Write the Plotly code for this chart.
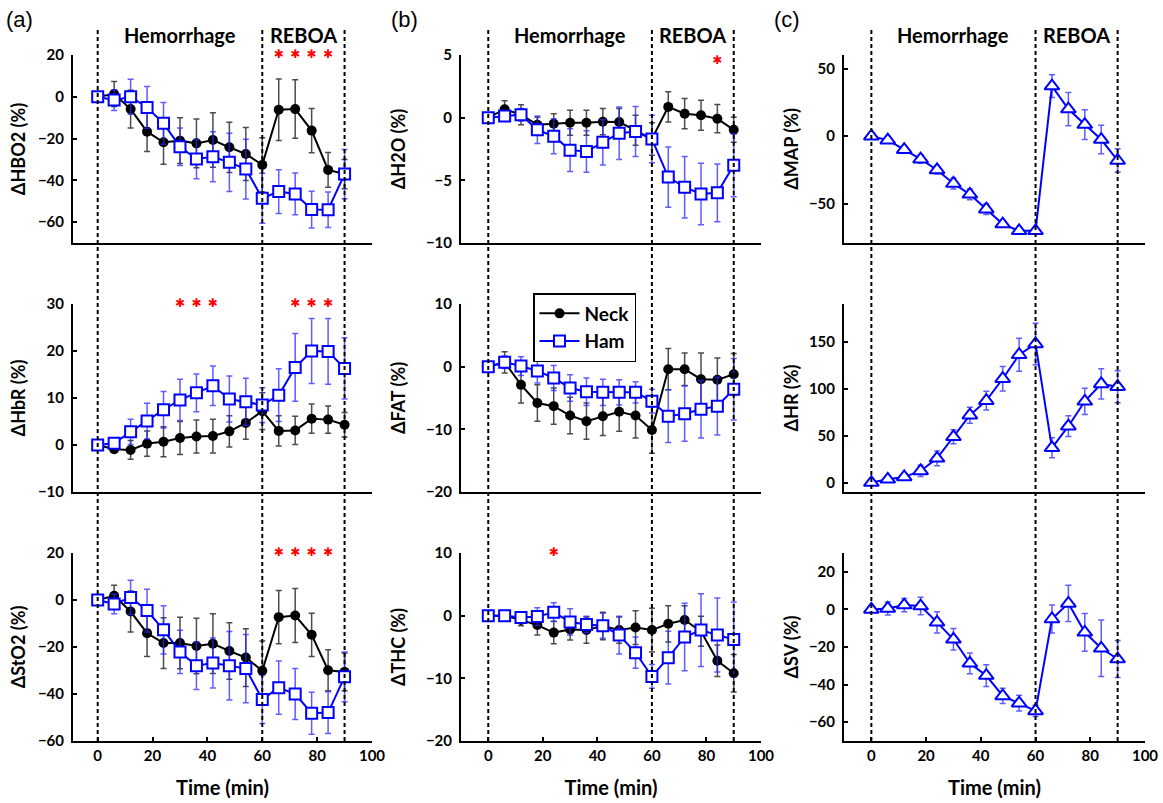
import plotly.graph_objects as go

# ---------------- data ----------------
t = [0, 6, 12, 18, 24, 30, 36, 42, 48, 54, 60, 66, 72, 78, 84, 90]

hbo2_neck = [0, 1.3, -5.9, -16.7, -21.8, -21.0, -22.3, -20.7, -24.2, -27.4, -32.6, -6.2, -5.9, -16.2, -35.0, -37.0]
hbo2_neck_err = [0, 6, 9, 9.5, 10.5, 11, 11.7, 13, 12, 12.7, 13, 14.7, 14, 10.6, 8.3, 7]
hbo2_ham = [0, -1.6, 0, -5.1, -12.7, -23.9, -29.8, -28.7, -31.4, -34.6, -48.6, -45.4, -46.5, -54.0, -54.1, -37.0]
hbo2_ham_err = [0, 5, 8.4, 10, 10, 9, 9.4, 12, 13.9, 14.3, 12, 10.5, 10, 8.8, 8.5, 11.8]

hbr_neck = [0, -0.9, -1.05, 0.3, 0.7, 1.5, 1.8, 1.9, 2.9, 4.7, 7.2, 3.0, 3.1, 5.6, 5.4, 4.3]
hbr_neck_err = [0, 0.6, 2, 2.7, 3.2, 3.5, 3.5, 3.6, 3.3, 3.5, 3.9, 3.2, 3.0, 3.1, 2.9, 2.6]
hbr_ham = [0, 0.35, 2.8, 5.1, 7.5, 9.6, 11.1, 12.6, 9.8, 9.2, 8.5, 10.6, 16.5, 20.0, 19.9, 16.3]
hbr_ham_err = [0, 0.5, 2.7, 3.8, 3.9, 4.4, 4.0, 4.2, 4.9, 5.0, 3.7, 5.6, 7.2, 6.9, 7.0, 6.5]

sto2_neck = [0, 1.8, -4.9, -14.1, -18.3, -18.3, -19.6, -18.6, -21.7, -24.5, -30.1, -7.3, -6.6, -14.8, -29.9, -30.6]
sto2_neck_err = [0, 4.5, 8.7, 9.9, 10.8, 11, 11.8, 12.7, 12, 12.3, 12.7, 11.3, 11.5, 9.2, 8.7, 8]
sto2_ham = [0, -1.7, 1.1, -4.5, -12.7, -22.1, -28.0, -26.8, -28.0, -29.2, -42.3, -37.3, -40.0, -48.2, -47.9, -32.7]
sto2_ham_err = [0, 4.2, 7.3, 9.1, 10.3, 9.2, 10.1, 10.6, 14.6, 14.5, 10.3, 11.3, 10.8, 8.9, 8.9, 10.6]

h2o_neck = [0, 0.67, 0.24, -0.57, -0.49, -0.4, -0.4, -0.32, -0.35, -1.0, -1.7, 0.86, 0.32, 0.19, -0.08, -0.97]
h2o_neck_err = [0, 0.67, 0.8, 0.6, 0.8, 1.0, 1.0, 1.05, 1.08, 1.2, 1.3, 1.2, 1.2, 1.2, 1.13, 1.0]
h2o_ham = [0, 0.13, 0.24, -0.97, -1.48, -2.59, -2.7, -1.97, -1.24, -1.1, -1.7, -4.74, -5.55, -6.09, -6.0, -3.8]
h2o_ham_err = [0, 0.3, 0.5, 1.1, 1.4, 1.7, 1.65, 1.8, 2.1, 2.0, 1.9, 2.4, 2.45, 2.45, 2.3, 2.5]

fat_neck = [0, 0.7, -2.9, -5.8, -6.3, -7.8, -8.7, -7.9, -7.2, -7.8, -10.1, -0.4, -0.4, -2.0, -2.1, -1.2]
fat_neck_err = [0, 1.7, 2.9, 2.9, 2.9, 2.9, 2.9, 3.1, 3.1, 3.6, 3.7, 3.3, 2.6, 4.2, 3.5, 3.3]
fat_ham = [0, 0.7, 0.1, -0.7, -1.8, -3.4, -4.0, -4.1, -4.1, -4.1, -5.5, -7.9, -7.5, -6.8, -6.3, -3.6]
fat_ham_err = [0, 1.0, 1.5, 1.9, 2.0, 2.1, 2.2, 2.1, 2.0, 1.7, 1.9, 4.2, 4.4, 4.6, 4.6, 4.9]

thc_neck = [0, 0, -0.7, -1.5, -2.7, -2.2, -2.3, -1.65, -2.3, -1.9, -2.3, -1.3, -0.7, -2.5, -7.2, -9.2]
thc_neck_err = [0, 0.5, 0.9, 1.6, 1.8, 1.7, 2.1, 2.2, 2.1, 2.7, 3.5, 2.9, 2.3, 2.4, 2.5, 3.0]
thc_ham = [0, 0, -0.3, -0.15, 0.55, -1.0, -1.4, -1.6, -3.1, -5.9, -9.7, -6.7, -3.4, -2.3, -3.1, -3.8]
thc_ham_err = [0, 0.6, 0.9, 1.4, 1.5, 2.1, 1.3, 2.0, 3.0, 2.5, 1.9, 4.2, 5.4, 5.8, 5.9, 6.0]

map_vals = [0, -3, -10, -17, -25, -35, -43, -54, -65, -70, -70, 37, 20, 8.6, -2.5, -18]
map_err = [0, 1, 2, 3, 3, 4, 4, 4, 2, 2, 1, 8.4, 12.3, 11, 10.6, 8.6]
hr_vals = [0, 3.5, 6, 12.4, 25.8, 48.7, 71.7, 87.2, 110.5, 136, 147.5, 37, 60, 86.5, 105, 102]
hr_err = [0, 2, 3, 6, 7.8, 7.5, 8.5, 10, 13, 17.5, 22, 10.6, 11, 14, 16, 17]
sv_vals = [0, 0.5, 2.3, 1.8, -6.9, -15.9, -28.7, -35.2, -46, -49.9, -54, -5.1, 3.2, -12.2, -20.7, -26.4]
sv_err = [0, 3.5, 3.5, 4.6, 5.7, 5.7, 5.5, 5.8, 4, 4.2, 3, 7.5, 9.7, 10, 15, 9.8]

# significance (time, level)
sig_hbo2_t = [66, 72, 78, 84]; sig_hbo2_y = 20
sig_hbr_t = [30, 36, 42, 72, 78, 84]; sig_hbr_y = 30
sig_sto2_t = [66, 72, 78, 84]; sig_sto2_y = 20
sig_h2o_t = [84]; sig_h2o_y = 4.5
sig_thc_t = [24]; sig_thc_y = 10

phase_bounds = [0, 60, 90]
phase_labels = ["Hemorrhage", "REBOA"]
phase_centers = [30, 75]

x_ticks = [0, 20, 40, 60, 80, 100]

# ---------------- layout geometry ----------------
W, H = 1163, 803
FONT = "Lato"
BLUE = "#0000FF"

col_px = [(73, 372, [-9, 100]), (461, 761, [-10, 100]), (844, 1145, [-10, 100])]
row_px = [(55, 243), (304, 492), (553, 741)]

panels = [
    # (row, col, ytitle, yrange, yticks)
    (0, 0, "ΔHBO2 (%)", [-70, 20], [-60, -40, -20, 0, 20]),
    (1, 0, "ΔHbR (%)", [-10, 30], [-10, 0, 10, 20, 30]),
    (2, 0, "ΔStO2 (%)", [-60, 20], [-60, -40, -20, 0, 20]),
    (0, 1, "ΔH2O (%)", [-10, 5], [-10, -5, 0, 5]),
    (1, 1, "ΔFAT (%)", [-20, 10], [-20, -10, 0, 10]),
    (2, 1, "ΔTHC (%)", [-20, 10], [-20, -10, 0, 10]),
    (0, 2, "ΔMAP (%)", [-79, 60], [-50, 0, 50]),
    (1, 2, "ΔHR (%)", [-10, 190], [0, 50, 100, 150]),
    (2, 2, "ΔSV (%)", [-70, 30], [-60, -40, -20, 0, 20]),
]

fig = go.Figure()
layout = dict(width=W, height=H, margin=dict(l=0, r=0, t=0, b=0, autoexpand=False),
              paper_bgcolor="white", plot_bgcolor="white", showlegend=True)

def axname(row, col):
    return row * 3 + col + 1

tickfont = dict(family=FONT, size=15, color="black", weight="bold")
titlefont = dict(family=FONT, size=18, color="black", weight="bold")

standoffs = {0: 8, 1: 16, 2: 6}

for (r, c, ytitle, yr, yt) in panels:
    n = axname(r, c)
    x0, x1, xr = col_px[c]
    y0, y1 = row_px[r]
    xk = "xaxis" if n == 1 else f"xaxis{n}"
    yk = "yaxis" if n == 1 else f"yaxis{n}"
    layout[xk] = dict(domain=[x0 / W, x1 / W], range=xr, anchor=f"y{'' if n == 1 else n}",
                      showline=True, linecolor="black", linewidth=2, showgrid=False,
                      zeroline=False, tickvals=x_ticks, automargin=False,
                      showticklabels=(r == 2), ticks="inside" if r == 2 else "",
                      ticklen=4, tickwidth=1.5, tickcolor="black", tickfont=tickfont)
    if r == 2:
        layout[xk]["title"] = dict(text="Time (min)", font=dict(family=FONT, size=20, color="black", weight="bold"), standoff=18)
    layout[yk] = dict(domain=[1 - y1 / H, 1 - y0 / H], range=yr, anchor=f"x{'' if n == 1 else n}",
                      showline=True, linecolor="black", linewidth=2, showgrid=False,
                      zeroline=False, tickvals=yt, ticks="inside", ticklen=4, tickwidth=1.5,
                      tickcolor="black", tickfont=tickfont, automargin=False, ticklabelstandoff=4,
                      title=dict(text=ytitle, font=titlefont, standoff=standoffs[c]))

fig.update_layout(**layout)

def add_pair(n, neck, neck_err, ham, ham_err, show):
    xa = "x" if n == 1 else f"x{n}"
    ya = "y" if n == 1 else f"y{n}"
    fig.add_trace(go.Scatter(
        x=t, y=neck, xaxis=xa, yaxis=ya, mode="lines+markers", name="Neck",
        legendgroup="neck", showlegend=show,
        line=dict(color="black", width=2),
        marker=dict(symbol="circle", size=10, color="black"),
        error_y=dict(type="data", array=neck_err, color="rgba(0,0,0,0.7)", thickness=1.5, width=3)))
    fig.add_trace(go.Scatter(
        x=t, y=ham, xaxis=xa, yaxis=ya, mode="lines+markers", name="Ham",
        legendgroup="ham", showlegend=show,
        line=dict(color=BLUE, width=2),
        marker=dict(symbol="square", size=11, color="white", line=dict(color=BLUE, width=2)),
        error_y=dict(type="data", array=ham_err, color="rgba(40,40,255,0.75)", thickness=1.5, width=3)))

def add_single(n, vals, err):
    xa = f"x{n}"
    ya = f"y{n}"
    fig.add_trace(go.Scatter(
        x=t, y=vals, xaxis=xa, yaxis=ya, mode="lines+markers", showlegend=False,
        line=dict(color=BLUE, width=2),
        marker=dict(symbol="triangle-up", size=13, color="white", line=dict(color=BLUE, width=2)),
        error_y=dict(type="data", array=err, color="rgba(40,40,255,0.75)", thickness=1.5, width=3)))

def add_sig(n, times, level):
    xa = "x" if n == 1 else f"x{n}"
    ya = "y" if n == 1 else f"y{n}"
    fig.add_trace(go.Scatter(
        x=times, y=[level] * len(times), xaxis=xa, yaxis=ya, mode="text", showlegend=False,
        text=["✱"] * len(times), textposition="middle center", hoverinfo="skip",
        cliponaxis=False,
        textfont=dict(family="DejaVu Sans", size=12, color="red")))

add_pair(1, hbo2_neck, hbo2_neck_err, hbo2_ham, hbo2_ham_err, False)
add_pair(4, hbr_neck, hbr_neck_err, hbr_ham, hbr_ham_err, False)
add_pair(7, sto2_neck, sto2_neck_err, sto2_ham, sto2_ham_err, False)
add_pair(2, h2o_neck, h2o_neck_err, h2o_ham, h2o_ham_err, False)
add_pair(5, fat_neck, fat_neck_err, fat_ham, fat_ham_err, True)
add_pair(8, thc_neck, thc_neck_err, thc_ham, thc_ham_err, False)
add_single(3, map_vals, map_err)
add_single(6, hr_vals, hr_err)
add_single(9, sv_vals, sv_err)

add_sig(1, sig_hbo2_t, sig_hbo2_y)
add_sig(4, sig_hbr_t, sig_hbr_y)
add_sig(7, sig_sto2_t, sig_sto2_y)
add_sig(2, sig_h2o_t, sig_h2o_y)
add_sig(8, sig_thc_t, sig_thc_y)

# dashed phase boundaries spanning whole columns + phase labels
shapes = []
annotations = []
for c in range(3):
    n = axname(2, c)
    xref = f"x{n}"
    for b in phase_bounds:
        shapes.append(dict(type="line", xref=xref, yref="paper", x0=b, x1=b,
                           y0=1 - 741 / H, y1=1 - 28 / H,
                           line=dict(color="black", width=2, dash="4px,3px")))
    for lab, cx in zip(phase_labels, phase_centers):
        annotations.append(dict(text=lab, xref=xref, yref="paper", x=cx, y=1 - 35 / H,
                                showarrow=False, xanchor="center", yanchor="middle",
                                font=dict(family=FONT, size=20, color="black", weight="bold")))

for lab, px in zip(["(a)", "(b)", "(c)"], [19, 404, 787]):
    annotations.append(dict(text=lab, xref="paper", yref="paper", x=px / W, y=1 - 20 / H,
                            showarrow=False, xanchor="center", yanchor="middle",
                            font=dict(family="Liberation Sans", size=22, color="black")))

fig.update_layout(
    shapes=shapes, annotations=annotations,
    legend=dict(x=533 / W, y=1 - 293 / H, xanchor="left", yanchor="top",
                bordercolor="black", borderwidth=1.5, bgcolor="white",
                font=dict(family=FONT, size=19, color="black", weight="bold"),
                itemwidth=40, tracegroupgap=0)
)

fig.write_html("out.html", config={"displayModeBar": False},
               post_script="document.body.style.margin='0px';")
